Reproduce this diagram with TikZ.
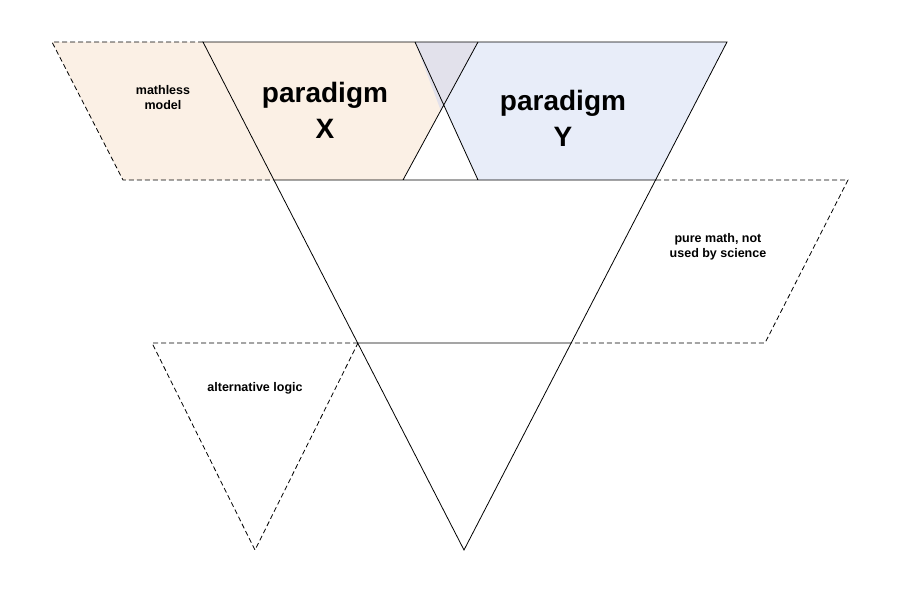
\documentclass[tikz,border=0pt]{standalone}
\usepackage{fontspec}
\setmainfont{Liberation Sans}
\begin{document}
\begin{tikzpicture}[x=1pt,y=-1pt,
  solidline/.style={draw=black,line width=0.8pt},
  dashline/.style={draw=black,line width=0.8pt,dash pattern=on 5pt off 3pt},
  small/.style={font=\bfseries\fontsize{12.5}{15}\selectfont,align=center},
  big/.style={font=\bfseries\fontsize{28}{36}\selectfont,align=center}]
\useasboundingbox (0,0) rectangle (900,608);
\definecolor{peach}{RGB}{251,240,229}
\definecolor{lblue}{RGB}{232,237,249}
\definecolor{overlap}{RGB}{226,225,235}
\coordinate (ml) at (52,42); \coordinate (tl) at (203,42);
\coordinate (tr) at (727,42); \coordinate (ap) at (464,550);
\coordinate (xl) at (275,180); \coordinate (xr) at (403,180);
\coordinate (yl) at (478,180); \coordinate (yr) at (656,180);
\coordinate (xt) at (478,42); \coordinate (yt) at (415,42);
\coordinate (mb) at (123,180);
\coordinate (pt) at (848,180); \coordinate (pb) at (765,343);
\coordinate (pl) at (572,343); \coordinate (al) at (358,343);
\coordinate (at) at (152,343); \coordinate (aa) at (255,550);
\fill[peach] (ml) -- (tl) -- (xl) -- (mb) -- cycle;
\fill[peach] (tl) -- (xt) -- (xr) -- (xl) -- cycle;
\fill[lblue] (yt) -- (tr) -- (yr) -- (yl) -- cycle;
\fill[overlap] (yt) -- (xt) -- (441,111) -- cycle;
\draw[solidline] (tl) -- (tr) -- (ap) -- cycle;
\draw[solidline] (xt) -- (xr) (yt) -- (yl) (xl) -- (yr) (al) -- (pl);
\draw[dashline] (tl) -- (ml) -- (mb) -- (xl);
\draw[dashline] (yr) -- (pt) -- (pb) -- (pl);
\draw[dashline] (al) -- (at) -- (aa) -- cycle;
\node[small] (mm) at (163,98) {mathless\\model};
\node[big] (px) at (325,110) {paradigm\\X};
\node[big] (py) at (563,118) {paradigm\\Y};
\node[small] (pm) at (718,247) {pure math, not\\used by science};
\node[small] (alog) at (255,388) {alternative logic};
\end{tikzpicture}
\end{document}
